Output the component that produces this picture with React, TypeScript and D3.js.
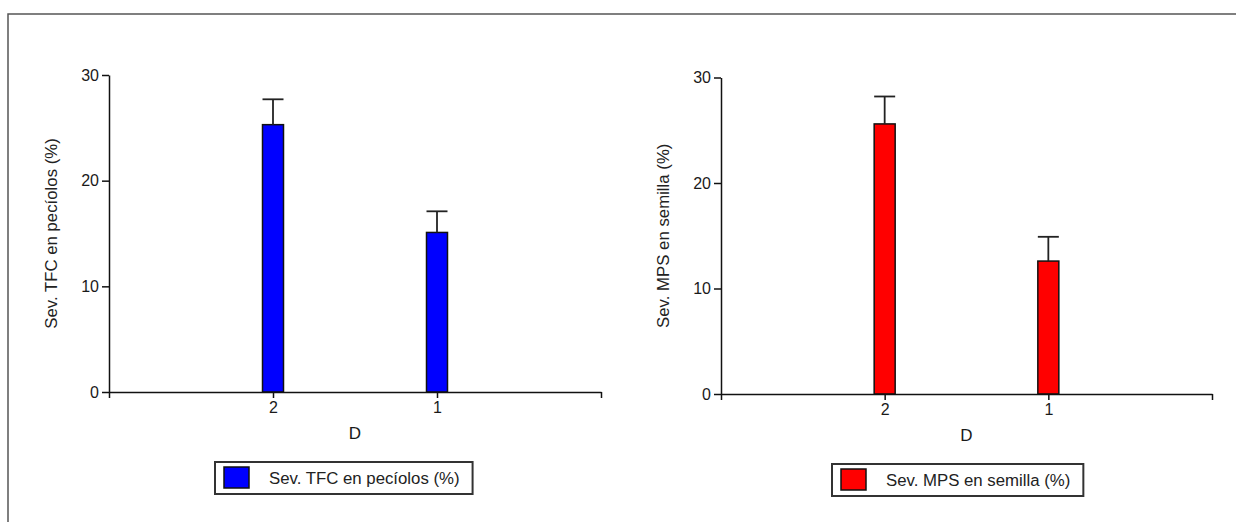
import React, { useEffect, useRef } from 'react';
import * as d3 from 'd3';

// categories on the x axis (in drawing order)
const categories = ['2', '1'];

// Sev. TFC en pecíolos (%)
const tfcMeans = [25.3, 15.1];
const tfcErrors = [2.4, 2.0];

// Sev. MPS en semilla (%)
const mpsMeans = [25.6, 12.6];
const mpsErrors = [2.6, 2.3];

const yTicks = [0, 10, 20, 30];

const FONT = '"Liberation Sans", Arial, sans-serif';

function drawPanel(svg, opts) {
  const { left, right, top, bottom, label, means, errors, color, legend } = opts;

  const g = svg.append('g');

  const x = d3.scaleLinear().domain([0, categories.length + 1]).range([left, right]);
  const y = d3.scaleLinear().domain([0, 30]).range([bottom, top]);

  const barW = 21;

  // bars
  g.selectAll('rect.bar')
    .data(means)
    .enter()
    .append('rect')
    .attr('class', 'bar')
    .attr('x', (d, i) => x(i + 1) - barW / 2)
    .attr('y', d => y(d))
    .attr('width', barW)
    .attr('height', d => y(0) - y(d))
    .attr('fill', color)
    .attr('stroke', '#111')
    .attr('stroke-width', 1.5);

  // error bars
  means.forEach((m, i) => {
    const cx = x(i + 1);
    g.append('line')
      .attr('x1', cx).attr('x2', cx)
      .attr('y1', y(m)).attr('y2', y(m + errors[i]))
      .attr('stroke', '#222').attr('stroke-width', 1.8);
    g.append('line')
      .attr('x1', cx - barW / 2).attr('x2', cx + barW / 2)
      .attr('y1', y(m + errors[i])).attr('y2', y(m + errors[i]))
      .attr('stroke', '#222').attr('stroke-width', 1.8);
  });

  // y axis
  const yAxis = g.append('g')
    .attr('transform', `translate(${left},0)`)
    .call(d3.axisLeft(y).tickValues(yTicks).tickSize(7).tickPadding(3).tickSizeOuter(0));
  yAxis.select('.domain').attr('stroke', '#111').attr('stroke-width', 1.5);
  yAxis.selectAll('.tick line').attr('stroke', '#111').attr('stroke-width', 1.5);
  yAxis.selectAll('.tick text')
    .attr('fill', '#1a1a1a')
    .style('font-family', FONT)
    .style('font-size', '16px');

  // x axis
  const xAxis = g.append('g')
    .attr('transform', `translate(0,${bottom})`)
    .call(
      d3.axisBottom(x)
        .tickValues(d3.range(0, categories.length + 2))
        .tickFormat(d => (d >= 1 && d <= categories.length ? categories[d - 1] : ''))
        .tickSize(6)
        .tickPadding(4)
        .tickSizeOuter(0)
    );
  xAxis.select('.domain').attr('stroke', '#111').attr('stroke-width', 1.5);
  xAxis.selectAll('.tick line').attr('stroke', '#111').attr('stroke-width', 1.5);
  xAxis.selectAll('.tick text')
    .attr('fill', '#1a1a1a')
    .style('font-family', FONT)
    .style('font-size', '16px');

  // axis titles
  g.append('text')
    .attr('transform', `translate(${left - 52},${(top + bottom) / 2}) rotate(-90)`)
    .attr('text-anchor', 'middle')
    .attr('fill', '#222')
    .style('font-family', FONT)
    .style('font-size', '16.8px')
    .text(label);

  g.append('text')
    .attr('x', (left + right) / 2)
    .attr('y', bottom + 47)
    .attr('text-anchor', 'middle')
    .attr('fill', '#1a1a1a')
    .style('font-family', FONT)
    .style('font-size', '17px')
    .text('D');

  // legend
  const lg = g.append('g').attr('transform', `translate(${legend.x},${legend.y})`);
  const box = lg.append('rect')
    .attr('x', 0).attr('y', 0)
    .attr('height', 32)
    .attr('fill', '#fff')
    .attr('stroke', '#333')
    .attr('stroke-width', 2);
  lg.append('rect')
    .attr('x', 9).attr('y', 5)
    .attr('width', 25).attr('height', 21)
    .attr('fill', color)
    .attr('stroke', '#111')
    .attr('stroke-width', 1.5);
  const t = lg.append('text')
    .attr('x', 54).attr('y', 22)
    .attr('fill', '#222')
    .style('font-family', FONT)
    .style('font-size', '16.8px')
    .text(label);
  const tw = t.node().getComputedTextLength();
  box.attr('width', 54 + tw + 13);
}

function App() {
  const ref = useRef(null);

  useEffect(() => {
    const svg = d3.select(ref.current);
    svg.selectAll('*').remove();

    // outer frame
    svg.append('rect')
      .attr('x', 8).attr('y', 14)
      .attr('width', 1260).attr('height', 540)
      .attr('fill', 'none')
      .attr('stroke', '#555')
      .attr('stroke-width', 1.5);

    drawPanel(svg, {
      left: 109, right: 601, top: 75, bottom: 392,
      label: 'Sev. TFC en pecíolos (%)',
      means: tfcMeans, errors: tfcErrors, color: '#0000ff',
      legend: { x: 215, y: 462 }
    });

    drawPanel(svg, {
      left: 721, right: 1212, top: 77.5, bottom: 394,
      label: 'Sev. MPS en semilla (%)',
      means: mpsMeans, errors: mpsErrors, color: '#ff0000',
      legend: { x: 832, y: 464 }
    });
  }, []);

  return (
    <svg
      ref={ref}
      width={1236}
      height={522}
      style={{ position: 'absolute', left: 0, top: 0, background: '#fff' }}
    />
  );
}

export default App;
